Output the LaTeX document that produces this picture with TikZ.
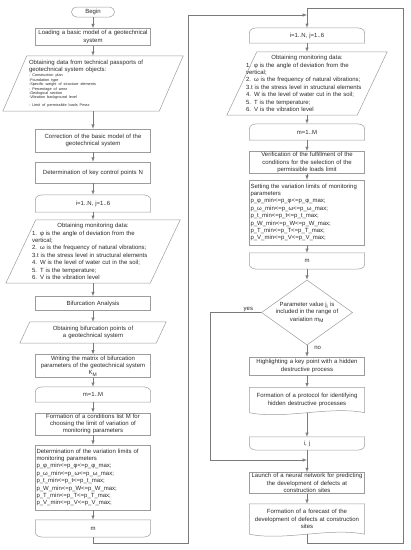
\documentclass[tikz,border=0pt]{standalone}
\usepackage{fontspec}
\setmainfont{Liberation Sans}
\usetikzlibrary{shapes.geometric}

\definecolor{edgegray}{HTML}{7A7A7A}
\definecolor{boxgray}{HTML}{9C9C9C}
\definecolor{inkgray}{HTML}{2A2A2A}

\newcommand{\flowfont}{\fontsize{6}{7.4}\selectfont}
\newcommand{\tinyfont}{\fontsize{3.8}{4.4}\selectfont}

% outlines for the shapes that have no ready node shape
\newcommand{\loopstart}[1]{%
  \draw[outline] (#1.south west) -- ([yshift=-5pt]#1.north west)
    to[out=90,in=180] ([xshift=9pt]#1.north west) -- ([xshift=-9pt]#1.north east)
    to[out=0,in=90] ([yshift=-5pt]#1.north east) -- (#1.south east) -- cycle;}
\newcommand{\loopend}[1]{%
  \draw[outline] (#1.north west) -- ([yshift=5pt]#1.south west)
    to[out=-90,in=180] ([xshift=9pt]#1.south west) -- ([xshift=-9pt]#1.south east)
    to[out=0,in=-90] ([yshift=5pt]#1.south east) -- (#1.north east) -- cycle;}
\newcommand{\iooutline}[2]{%
  \draw[outline] ([xshift=-#2]#1.south west) -- ([xshift=#2]#1.north west)
    -- ([xshift=#2]#1.north east) -- ([xshift=-#2]#1.south east) -- cycle;}
\newcommand{\docoutline}[1]{%
  \draw[outline] (#1.south west) -- (#1.north west) -- (#1.north east) -- (#1.south east)
    .. controls +(-35pt,7pt) and +(35pt,-7pt) .. (#1.south west);}

\begin{document}
\begin{tikzpicture}[
    x=1pt, y=-1pt,
    font=\flowfont, text=inkgray,
    outline/.style={draw=boxgray, line width=0.5pt},
    process/.style={rectangle, draw=boxgray, line width=0.5pt, minimum width=115, text width=113, inner xsep=1pt, inner ysep=2pt, align=center},
    loopbox/.style={rectangle, minimum width=115, text width=113, inner xsep=1pt, align=center},
    io/.style={rectangle, inner xsep=2pt, align=left},
    doc/.style={rectangle, minimum width=115, text width=113, inner xsep=1pt, align=center},
    terminal/.style={rectangle, rounded corners=5pt, draw=boxgray, line width=0.5pt, minimum width=43, minimum height=10, inner sep=1pt},
    decision/.style={diamond, draw=boxgray, line width=0.5pt, aspect=1.4, inner sep=0pt, align=center, minimum width=91, minimum height=65},
    arrow/.style={-latex, draw=edgegray, line width=0.5pt},
    line/.style={draw=edgegray, line width=0.5pt},
    lbl/.style={font=\flowfont, inner sep=1pt}
]
\useasboundingbox (0,0) rectangle (411,550);

% Left column
\node[terminal] (begin) at (93,12) {Begin};
\node[process, minimum height=16] (load) at (93,37) {Loading a basic model of a geotechnical\\system};
\node[io, minimum width=156, minimum height=55, text width=128] (passp) at (93,83.5) {Obtaining data from technical passports of\\geotechnical system objects:\par\vspace{1pt}\tinyfont
  - Construction plan\\-Foundation type\\-Specific weight of structure elements\\- Percentage of wear\\-Geological section\\-Vibration background level\\- Limit of permissible loads Pmax};
\node[process, minimum height=23] (corr) at (93,140.5) {Correction of the basic model of the\\geotechnical system};
\node[process, minimum height=21] (keyp) at (93,172.5) {Determination of key control points N};
\node[loopbox, minimum height=17] (loopi) at (93,203.5) {i=1..N, j=1..6};
\node[io, minimum width=144, minimum height=63, text width=122] (mon) at (93,251.5) {\makebox[\linewidth]{Obtaining monitoring data:}\\1. φ is the angle of deviation from the\\vertical;\\2. ω is the frequency of natural vibrations;\\3.t is the stress level in structural elements\\4. W is the level of water cut in the soil;\\5. T is the temperature;\\6. V is the vibration level};
\node[process, minimum height=14] (bif) at (93,303.5) {Bifurcation Analysis};
\node[io, minimum width=136, minimum height=21, text width=120, align=center] (bifp) at (93,332.5) {Obtaining bifurcation points of\\a geotechnical system};
\node[process, minimum height=22, inner ysep=1pt] (matrix) at (93,366) {Writing the matrix of bifurcation\\parameters of the geotechnical system\\K\textsubscript{M}};
\node[loopbox, minimum height=15] (loopm) at (93,394.5) {m=1..M};
\node[process, minimum height=22, inner ysep=1pt] (cond) at (93,424) {Formation of a conditions list M for\\choosing the limit of variation of\\monitoring parameters};
\node[process, minimum height=65, align=left] (limits) at (93,477.5) {Determination of the variation limits of\\monitoring parameters\\p\_φ\_min<=p\_φ<=p\_φ\_max;\\p\_ω\_min<=p\_ω<=p\_ω\_max;\\p\_t\_min<=p\_t<=p\_t\_max;\\p\_W\_min<=p\_W<=p\_W\_max;\\p\_T\_min<=p\_T<=p\_T\_max;\\p\_V\_min<=p\_V<=p\_V\_max;};
\node[loopbox, minimum height=17] (mend) at (93,528.5) {m};

% Right column
\node[loopbox, minimum height=15] (loopi2) at (307,35.5) {i=1..N, j=1..6};
\node[io, minimum width=130, minimum height=63, text width=122] (mon2) at (307,83.5) {\makebox[\linewidth]{Obtaining monitoring data:}\\1. φ is the angle of deviation from the\\vertical;\\2. ω is the frequency of natural vibrations;\\3.t is the stress level in structural elements\\4. W is the level of water cut in the soil;\\5. T is the temperature;\\6. V is the vibration level};
\node[loopbox, minimum height=16] (loopm2) at (307,132) {m=1..M};
\node[process, minimum height=21, inner ysep=1pt] (verif) at (307,162.5) {Verification of the fulfillment of the\\conditions for the selection of the\\permissible loads limit};
\node[process, minimum height=65, align=left] (setlim) at (307,212.5) {Setting the variation limits of monitoring\\parameters\\p\_φ\_min<=p\_φ<=p\_φ\_max;\\p\_ω\_min<=p\_ω<=p\_ω\_max;\\p\_t\_min<=p\_t<=p\_t\_max;\\p\_W\_min<=p\_W<=p\_W\_max;\\p\_T\_min<=p\_T<=p\_T\_max;\\p\_V\_min<=p\_V<=p\_V\_max;};
\node[loopbox, minimum height=16] (mend2) at (307,261) {m};
\node[decision] (cond2) at (307,312.5) {Parameter value j\textsubscript{i} is\\included in the range of\\variation m\textsubscript{M}};
\node[process, minimum height=18] (high) at (307,366) {Highlighting a key point with a hidden\\destructive process};
\node[doc, minimum height=25] (proto) at (307,400) {Formation of a protocol for identifying\\hidden destructive processes};
\node[loopbox, minimum height=13] (ijend) at (307,443.5) {i, j};
\node[process, minimum height=20, inner ysep=1pt] (launch) at (307,483) {Launch of a neural network for predicting\\the development of defects at\\construction sites};
\node[doc, minimum height=30] (fcast) at (307,519) {Formation of a forecast of the\\development of defects at construction\\sites};

% Outlines of the special shapes
\iooutline{passp}{12pt}
\iooutline{mon}{15pt}
\iooutline{bifp}{5pt}
\iooutline{mon2}{15pt}
\loopstart{loopi}
\loopstart{loopm}
\loopstart{loopi2}
\loopstart{loopm2}
\loopend{mend}
\loopend{mend2}
\loopend{ijend}
\docoutline{proto}
\docoutline{fcast}

% Turning points of the loops
\coordinate (lbottom) at (188,543);
\coordinate (joinL) at (307,15);
\coordinate (rbottom) at (403,543);
\coordinate (rtop) at (403,8);
\coordinate (yesturn) at (210,460);
\coordinate (joinR) at (307,460);

% Left column flow
\draw[arrow] (begin) -- (load);
\draw[arrow] (load) -- (passp);
\draw[arrow] (passp) -- (corr);
\draw[arrow] (corr) -- (keyp);
\draw[arrow] (keyp) -- (loopi);
\draw[arrow] (loopi) -- (mon);
\draw[arrow] (mon) -- (bif);
\draw[arrow] (bif) -- (bifp);
\draw[arrow] (bifp) -- (matrix);
\draw[arrow] (matrix) -- (loopm);
\draw[arrow] (loopm) -- (cond);
\draw[arrow] (cond) -- (limits);
\draw[arrow] (limits) -- (mend);
\draw[arrow] (mend.south) -- (mend.south |- lbottom) -- (lbottom) |- (joinL);

% Right column flow
\draw[arrow] (loopi2) -- (mon2);
\draw[arrow] (mon2) -- (loopm2);
\draw[arrow] (loopm2) -- (verif);
\draw[arrow] (verif) -- (setlim);
\draw[arrow] (setlim) -- (mend2);
\draw[arrow] (mend2) -- (cond2);
\draw[arrow] (cond2.south) -- node[lbl, right=6pt, pos=0.2] (nolbl) {no} (high.north);
\draw[arrow] (high) -- (proto);
\draw[arrow] (proto) -- (ijend);
\draw[line] (ijend) -- (joinR);
\draw[arrow] (cond2.west) -- node[lbl, above, pos=0.25] (yeslbl) {yes} (cond2.west -| yesturn) -- (yesturn) -- (joinR);
\draw[arrow] (joinR) -- (launch);
\draw[arrow] (launch) -- (fcast);
\draw[arrow] (fcast.south) -- (fcast.south |- rbottom) -- (rbottom) -- (rtop) -| (loopi2.north);

\end{tikzpicture}
\end{document}
